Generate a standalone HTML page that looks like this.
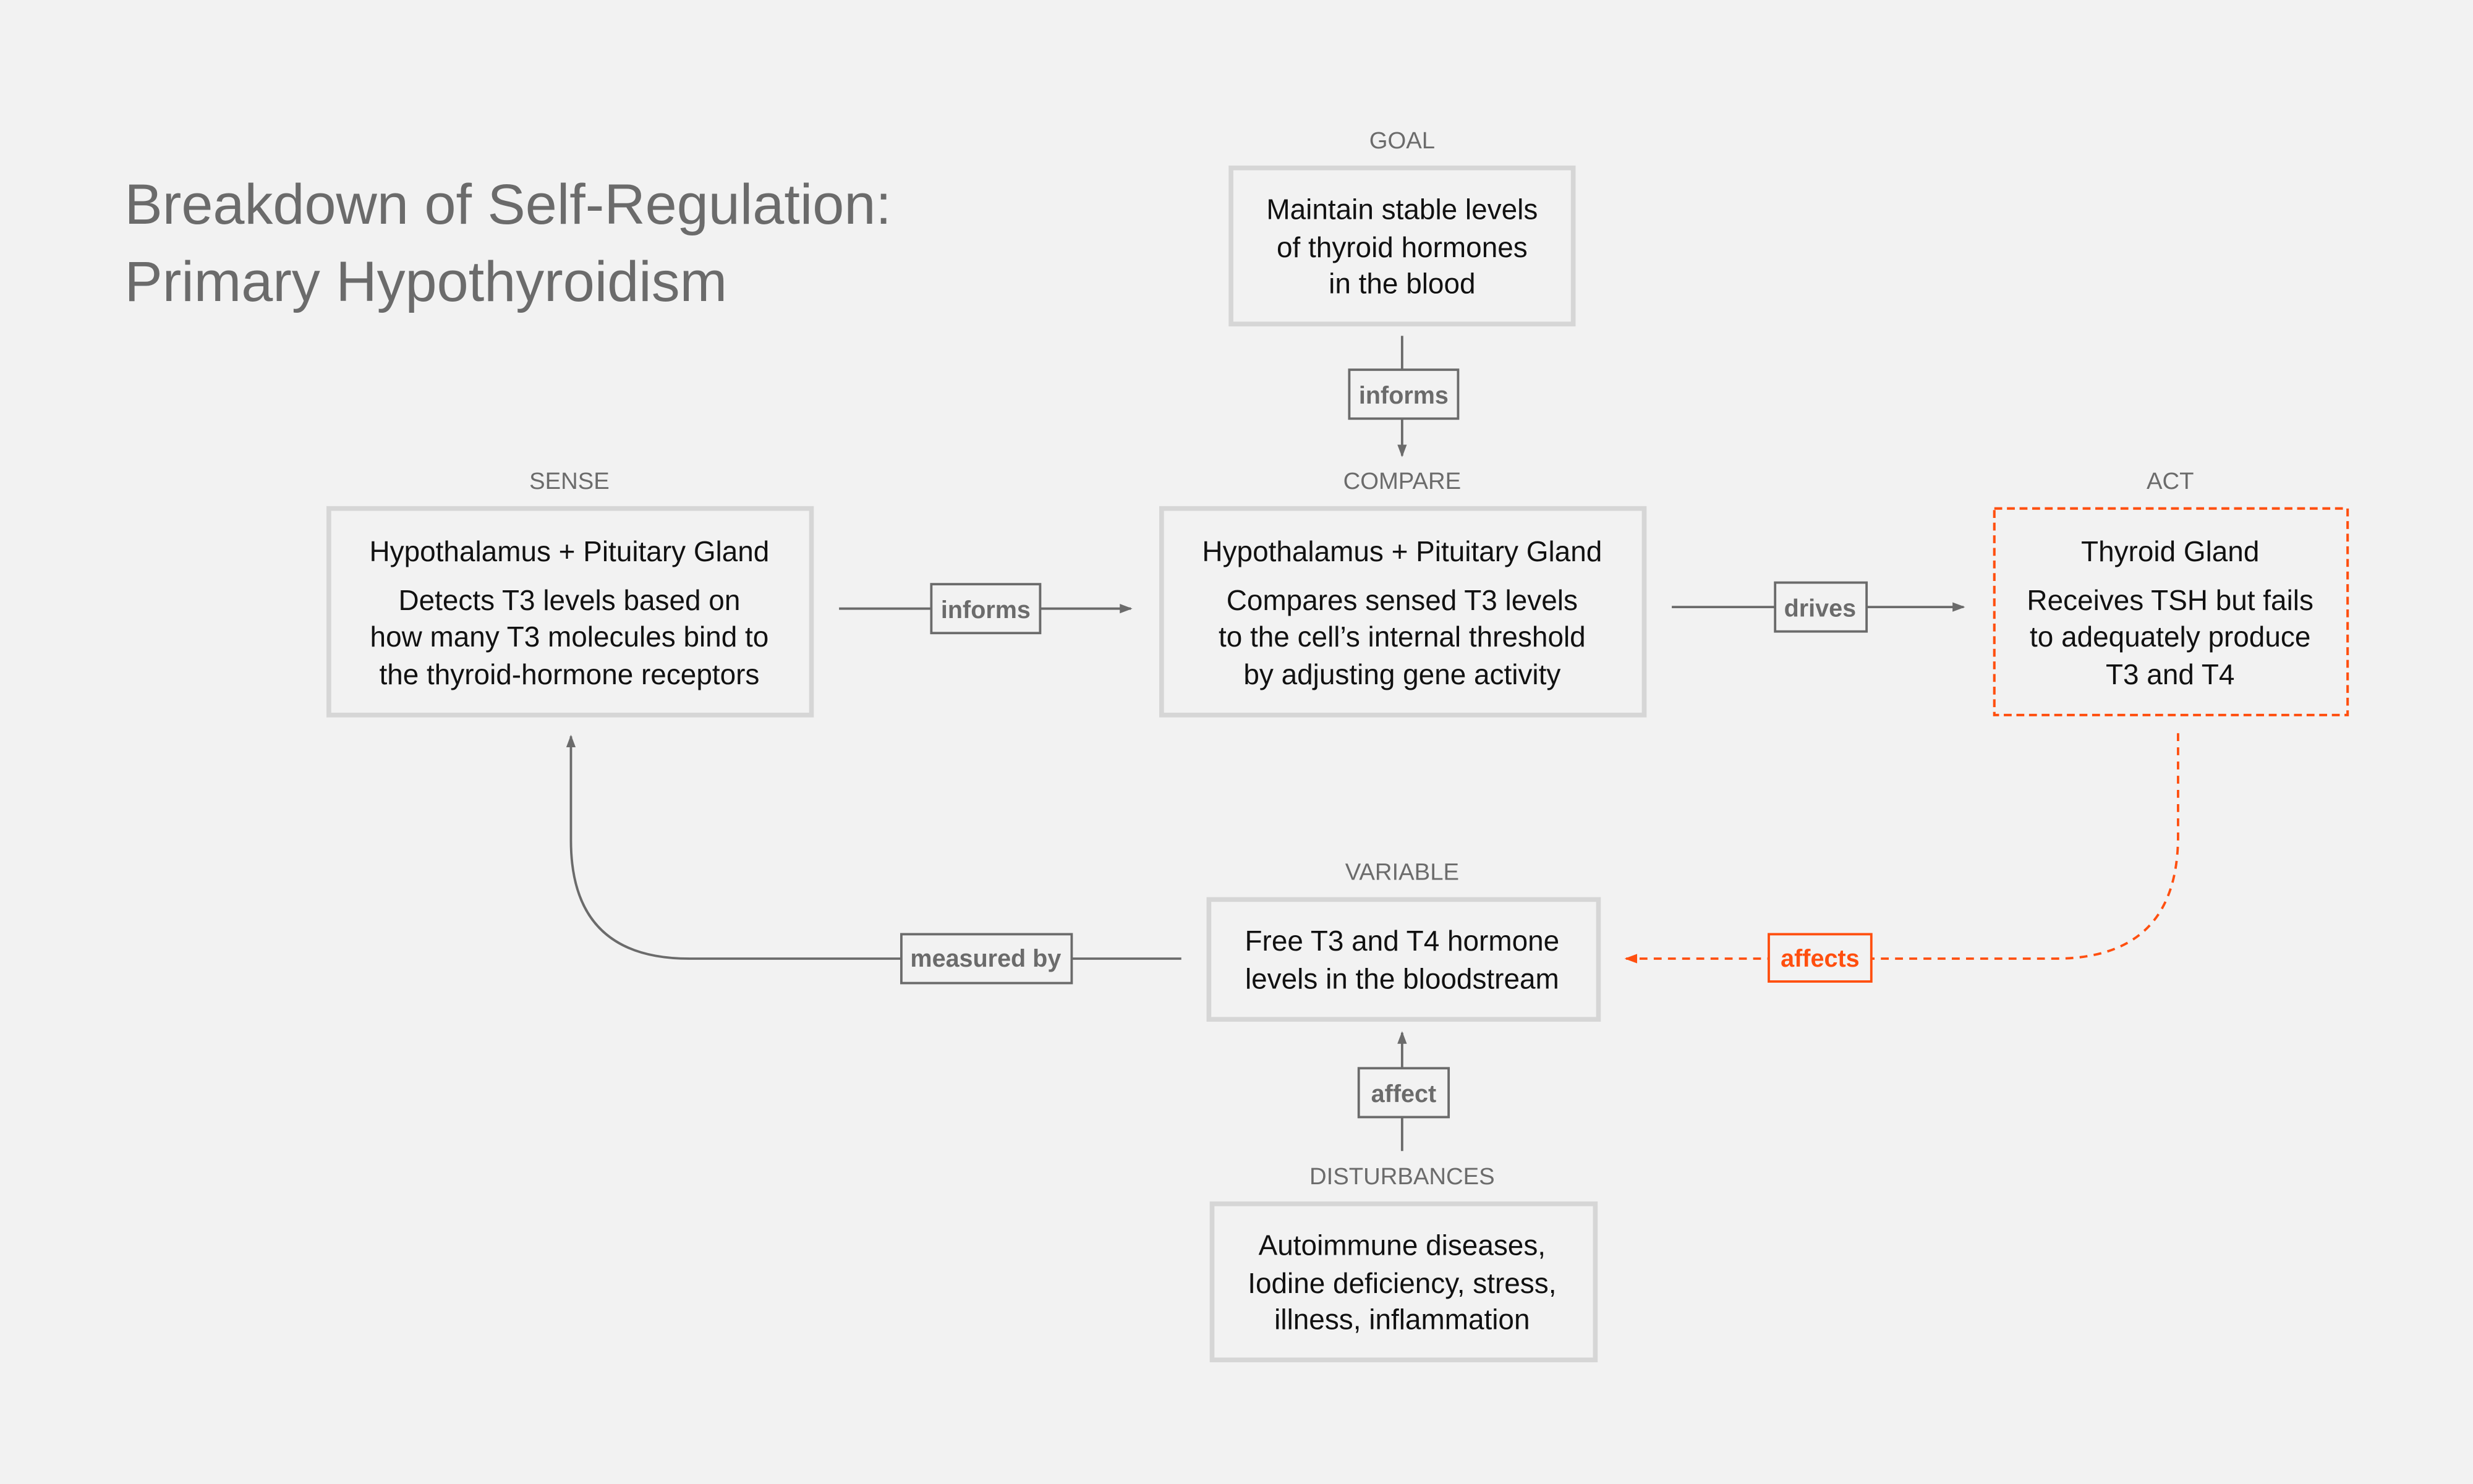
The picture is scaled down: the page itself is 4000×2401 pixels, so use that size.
<!DOCTYPE html>
<html><head><meta charset="utf-8"><style>html,body{margin:0;padding:0;background:#f2f2f2}svg{display:block}</style></head>
<body>
<svg width="4000" height="2401" viewBox="0 0 1568 941.2" preserveAspectRatio="none" xmlns="http://www.w3.org/2000/svg" font-family="Liberation Sans, sans-serif">
<defs>
<marker id="ag" markerWidth="8" markerHeight="8" refX="7" refY="4" orient="auto" markerUnits="userSpaceOnUse"><path d="M0,1 L8,4 L0,7 Z" fill="#6b6b6b"/></marker>
<marker id="ao" markerWidth="8" markerHeight="8" refX="7" refY="4" orient="auto" markerUnits="userSpaceOnUse"><path d="M0,1 L8,4 L0,7 Z" fill="#ff4f0f"/></marker>
</defs>
<rect width="1568" height="941.2" fill="#f2f2f2"/>
<text x="79" y="142" font-size="36" fill="#6b6b6b">Breakdown of Self-Regulation:</text>
<text x="79" y="191" font-size="36" fill="#6b6b6b">Primary Hypothyroidism</text>

<g font-size="15" fill="#6b6b6b" text-anchor="middle">
<text x="889" y="94">GOAL</text>
<text x="361" y="310">SENSE</text>
<text x="889" y="310">COMPARE</text>
<text x="1376" y="310">ACT</text>
<text x="889" y="558">VARIABLE</text>
<text x="889" y="751">DISTURBANCES</text>
</g>

<g fill="none" stroke="#d6d6d6" stroke-width="3">
<rect x="780.5" y="106.5" width="217" height="99"/>
<rect x="208.5" y="322.5" width="306" height="131"/>
<rect x="736.5" y="322.5" width="306" height="131"/>
<rect x="766.5" y="570.5" width="247" height="76"/>
<rect x="768.5" y="763.5" width="243" height="99"/>
</g>
<rect x="1264.5" y="322.5" width="224" height="131" fill="none" stroke="#ff4f0f" stroke-width="1.6" stroke-dasharray="5,3"/>

<g font-size="18" fill="#111" text-anchor="middle">
<text x="889" y="139">Maintain stable levels</text>
<text x="889" y="163">of thyroid hormones</text>
<text x="889" y="186">in the blood</text>
<text x="361" y="356">Hypothalamus + Pituitary Gland</text>
<text x="361" y="387">Detects T3 levels based on</text>
<text x="361" y="410">how many T3 molecules bind to</text>
<text x="361" y="434">the thyroid-hormone receptors</text>
<text x="889" y="356">Hypothalamus + Pituitary Gland</text>
<text x="889" y="387">Compares sensed T3 levels</text>
<text x="889" y="410">to the cell’s internal threshold</text>
<text x="889" y="434">by adjusting gene activity</text>
<text x="1376" y="356">Thyroid Gland</text>
<text x="1376" y="387">Receives TSH but fails</text>
<text x="1376" y="410">to adequately produce</text>
<text x="1376" y="434">T3 and T4</text>
<text x="889" y="603">Free T3 and T4 hormone</text>
<text x="889" y="627">levels in the bloodstream</text>
<text x="889" y="796">Autoimmune diseases,</text>
<text x="889" y="820">Iodine deficiency, stress,</text>
<text x="889" y="843">illness, inflammation</text>
</g>

<g stroke="#6b6b6b" stroke-width="1.5" fill="none">
<line x1="889" y1="213" x2="889" y2="289" marker-end="url(#ag)"/>
<line x1="532" y1="386" x2="717" y2="386" marker-end="url(#ag)"/>
<line x1="1060" y1="385" x2="1245" y2="385" marker-end="url(#ag)"/>
<line x1="889" y1="730" x2="889" y2="655" marker-end="url(#ag)"/>
<path d="M749,608 L437,608 Q362,608 362,533 L362,467" marker-end="url(#ag)"/>
</g>
<path d="M1381,465 L1381,530 Q1381,608 1303,608 L1031,608" fill="none" stroke="#ff4f0f" stroke-width="1.5" stroke-dasharray="5,4" marker-end="url(#ao)"/>

<g stroke="#6b6b6b" stroke-width="1.5" fill="#f2f2f2">
<rect x="855.5" y="234.5" width="69" height="31"/>
<rect x="590.5" y="370.5" width="69" height="31"/>
<rect x="1125.5" y="369.5" width="58" height="31"/>
<rect x="571.5" y="592.5" width="108" height="31"/>
<rect x="861.5" y="677.5" width="57" height="31"/>
</g>
<rect x="1121.5" y="592.5" width="65" height="30" fill="#f2f2f2" stroke="#ff4f0f" stroke-width="1.5"/>
<g font-size="15.5" font-weight="bold" fill="#6b6b6b" text-anchor="middle">
<text x="890" y="256">informs</text>
<text x="625" y="392">informs</text>
<text x="1154" y="391">drives</text>
<text x="625" y="613">measured by</text>
<text x="890" y="699">affect</text>
<text x="1154" y="613" fill="#ff4f0f">affects</text>
</g>
</svg>
</body></html>
